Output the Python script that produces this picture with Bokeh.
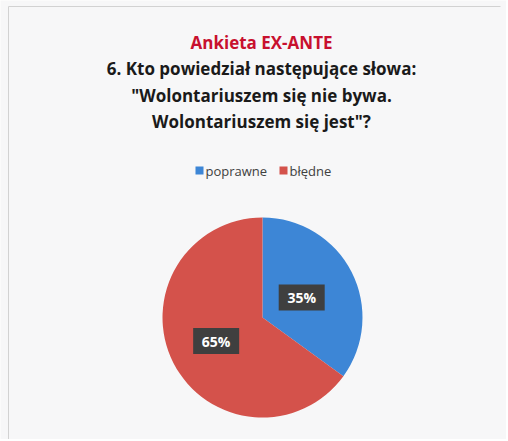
import math
from bokeh.plotting import figure
from bokeh.models import Range1d, ColumnDataSource
from bokeh.core.properties import value
from bokeh.embed import file_html
from bokeh.resources import INLINE

# ---- data ----
title_top = "Ankieta EX-ANTE"
title_lines = ["6. Kto powiedział następujące słowa:",
               "\"Wolontariuszem się nie bywa.",
               "Wolontariuszem się jest\"?"]
categories = ["poprawne", "błędne"]
shares = [35, 65]
colors = ["#3d86d6", "#d4524b"]

W, H = 506, 439
p = figure(width=W, height=H, x_range=Range1d(0, W), y_range=Range1d(433 - H, 433),
           output_backend="svg", toolbar_location=None, min_border=0)
p.axis.visible = False
p.grid.visible = False
p.background_fill_color = "#f7f7f8"
p.border_fill_color = "#f7f7f8"
p.outline_line_color = None

# frame lines (left and top)
p.segment(x0=[8, 8], y0=[433 - H, 427], x1=[8, 500], y1=[427, 427], line_color="#d2d2d2", line_width=1)

FONT = "Open Sans"
cx = 261
p.text(x=[cx], y=[391], text=[title_top], text_font=value(FONT), text_font_style="bold",
       text_font_size="17px", text_color="#c8102e", text_align="center", text_baseline="middle")
ys = [365, 338, 312]
p.text(x=[cx] * 3, y=ys, text=title_lines, text_font=value(FONT), text_font_style="bold",
       text_font_size="17px", text_color="#1a1a1a", text_align="center", text_baseline="middle")

# legend
leg_y = 263
sq_x = [199, 283]
p.rect(x=sq_x, y=[leg_y] * 2, width=8, height=8, width_units="screen", height_units="screen",
       fill_color=colors, line_color=None)
p.text(x=[s + 6 for s in sq_x], y=[leg_y] * 2, text=categories, text_font=value(FONT),
       text_font_size="13px", text_color="#404040", text_baseline="middle")

# pie
pcx, pcy, R = 262, 116, 100
total = sum(shares)
starts, ends, mids = [], [], []
a = math.pi / 2
for s in shares:
    sweep = 2 * math.pi * s / total
    starts.append(a)
    ends.append(a - sweep)
    mids.append(a - sweep / 2)
    a -= sweep
src = ColumnDataSource(dict(start=starts, end=ends, color=colors))
p.wedge(x=pcx, y=pcy, radius=R, radius_units="screen", start_angle="start", end_angle="end",
        direction="clock", fill_color="color", line_color=None, source=src)

lr = [0.44, 0.52]
lx = [pcx + f * R * math.cos(m) for f, m in zip(lr, mids)]
ly = [pcy + f * R * math.sin(m) for f, m in zip(lr, mids)]
labels = [f"{s}%" for s in shares]
p.rect(x=lx, y=ly, width=46, height=26, width_units="screen", height_units="screen",
       fill_color="#3f3f3f", line_color=None)
p.text(x=lx, y=ly, text=labels, text_font=value(FONT), text_font_style="bold",
       text_font_size="14px", text_color="white", text_align="center", text_baseline="middle")

open("out.html", "w").write(file_html(p, INLINE))
